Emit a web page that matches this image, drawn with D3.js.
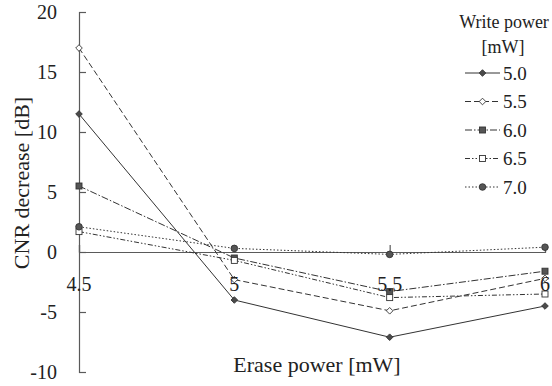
<!DOCTYPE html>
<html>
<head>
<meta charset="utf-8">
<script src="https://cdn.jsdelivr.net/npm/d3@7"></script>
</head>
<body style="margin:0">
<svg id="chart" width="552" height="386" font-family="Liberation Serif"></svg>
<script>
// Erase power on the x axis, CNR decrease per write power
const erasePower = [4.5, 5, 5.5, 6];
const writePowers = ["5.0", "5.5", "6.0", "6.5", "7.0"];
const cnr50 = [11.5, -4.0, -7.1, -4.5];
const cnr55 = [17.0, -2.3, -4.9, -2.2];
const cnr60 = [5.5, -0.5, -3.3, -1.6];
const cnr65 = [1.7, -0.7, -3.8, -3.5];
const cnr70 = [2.1, 0.3, -0.2, 0.4];
const yTicks = [-10, -5, 0, 5, 10, 15, 20];
const xTicks = [4.5, 5, 5.5, 6];

const seriesValues = [cnr50, cnr55, cnr60, cnr65, cnr70];
// line dash and marker per series
const styles = [
  { dash: null, marker: "diamond", fill: "#4a4a4a" },
  { dash: "6,3", marker: "diamond", fill: "#fff" },
  { dash: "7,2,1.5,2", marker: "square", fill: "#555" },
  { dash: "5,2,1.5,2,1.5,2", marker: "square", fill: "#fff" },
  { dash: "1.5,2", marker: "circle", fill: "#555" }
];

const svg = d3.select("#chart");
const x = d3.scaleLinear().domain([4.5, 6]).range([79, 545]);
const y = d3.scaleLinear().domain([-10, 20]).range([372, 12]);

const axisColor = "#5a5a5a";
const lineColor = "#333";

// text helper: every label uses the serif face
function label(parent, txt, size) {
  return parent.append("text").attr("font-size", size).attr("fill", "#222")
    .attr("font-family", "Liberation Serif").style("font-family", "'Liberation Serif'").text(txt);
}

// y axis with inward ticks
const yAxis = svg.append("g").attr("transform", `translate(${x(4.5)},0)`)
  .call(d3.axisRight(y).tickValues(yTicks).tickSize(7).tickFormat(""));
yAxis.select(".domain").attr("stroke", axisColor).attr("stroke-width", 1.2);
yAxis.selectAll(".tick line").attr("stroke", axisColor).attr("stroke-width", 1.2);

const yLabels = svg.append("g");
yTicks.forEach(d => {
  label(yLabels, d, 20).attr("x", 57).attr("y", y(d)).attr("dy", "0.35em").attr("text-anchor", "end");
});

// x axis at zero with upward ticks
const xAxis = svg.append("g").attr("transform", `translate(0,${y(0)})`)
  .call(d3.axisTop(x).tickValues(xTicks).tickSize(7).tickFormat(""));
xAxis.select(".domain").attr("stroke", axisColor).attr("stroke-width", 1.2);
xAxis.selectAll(".tick line").attr("stroke", axisColor).attr("stroke-width", 1.2);

// symbols
const diamond = s => `M0,${-s}L${s},0L0,${s}L${-s},0Z`;
function drawMarker(g, type, fill) {
  if (type === "diamond") {
    g.append("path").attr("d", diamond(3.3)).attr("fill", fill).attr("stroke", lineColor).attr("stroke-width", 0.9);
  } else if (type === "square") {
    g.append("rect").attr("x", -3).attr("y", -3).attr("width", 6).attr("height", 6)
      .attr("fill", fill).attr("stroke", lineColor).attr("stroke-width", 0.9);
  } else {
    g.append("circle").attr("r", 3.3).attr("fill", fill).attr("stroke", lineColor).attr("stroke-width", 0.9);
  }
}

const line = d3.line().x((d, i) => x(erasePower[i])).y(d => y(d));

seriesValues.forEach((vals, si) => {
  const st = styles[si];
  svg.append("path").datum(vals).attr("d", line)
    .attr("fill", "none").attr("stroke", lineColor).attr("stroke-width", 1)
    .attr("stroke-dasharray", st.dash);
  vals.forEach((v, i) => {
    const g = svg.append("g").attr("transform", `translate(${x(erasePower[i])},${y(v)})`);
    drawMarker(g, st.marker, st.fill);
  });
});

// x tick labels below the plot, drawn over the marks
const xLabels = svg.append("g");
xTicks.forEach(d => {
  label(xLabels, d, 20).attr("x", x(d)).attr("y", 291).attr("text-anchor", "middle");
});

// axis titles
label(svg, "Erase power [mW]", 22).attr("x", 317).attr("y", 372).attr("text-anchor", "middle");
label(svg, "CNR decrease [dB]", 22).attr("transform", "translate(29,183) rotate(-90)").attr("text-anchor", "middle");

// legend
const legend = svg.append("g");
label(legend, "Write power", 18).attr("x", 504).attr("y", 28).attr("text-anchor", "middle");
label(legend, "[mW]", 18).attr("x", 503).attr("y", 53).attr("text-anchor", "middle");
const legendY = d3.scalePoint().domain(writePowers).range([73, 187]);
writePowers.forEach((w, i) => {
  const st = styles[i];
  const ly = legendY(w);
  legend.append("line").attr("x1", 465).attr("x2", 500).attr("y1", ly).attr("y2", ly)
    .attr("stroke", lineColor).attr("stroke-width", 1).attr("stroke-dasharray", st.dash);
  const g = legend.append("g").attr("transform", `translate(482.5,${ly})`);
  drawMarker(g, st.marker, st.fill);
  label(legend, w, 19).attr("x", 503).attr("y", ly).attr("dy", "0.35em");
});
</script>
</body>
</html>
